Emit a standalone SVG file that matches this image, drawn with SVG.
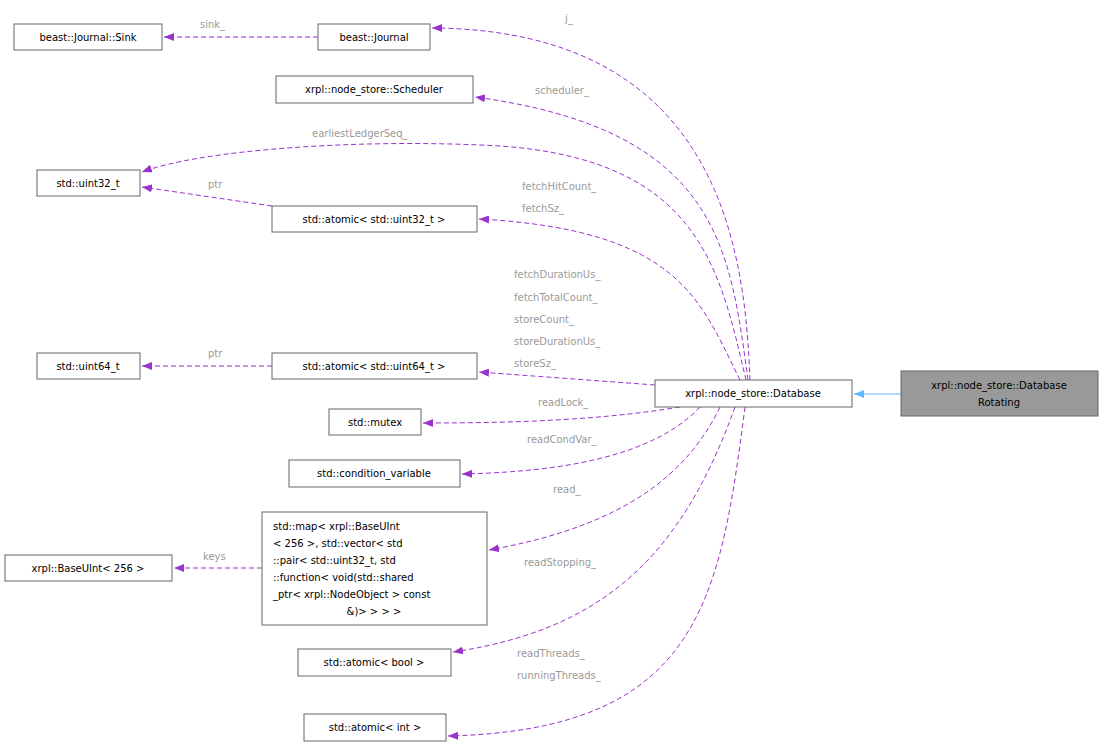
<svg xmlns="http://www.w3.org/2000/svg" width="1103" height="748" viewBox="0 0 1103 748">
<style>
text{font-family:"DejaVu Sans",sans-serif;font-size:10px;fill:#000}
.n rect{fill:#fff;stroke:#666;stroke-width:1}
.l{fill:#9a9a9a;text-anchor:start}
.c{text-anchor:middle}
.e{fill:none;stroke:#9a32cd;stroke-dasharray:5,3}
</style>
<defs>
<marker id="a" markerWidth="10" markerHeight="8" refX="10" refY="4" orient="auto" markerUnits="userSpaceOnUse"><path d="M0,0L10,4L0,8z" fill="#9a32cd"/></marker>
<marker id="b" markerWidth="10" markerHeight="8" refX="10" refY="4" orient="auto" markerUnits="userSpaceOnUse"><path d="M0,0L10,4L0,8z" fill="#63b8ff"/></marker>
</defs>
<rect width="1103" height="748" fill="#fff"/>
<g id="connectors">
<path class="e" marker-end="url(#a)" d="M318,37H164"/>
<path class="e" marker-end="url(#a)" d="M750,380C745,250 720,30 432,28"/>
<path class="e" marker-end="url(#a)" d="M748,380C730,250 720,130 475,97"/>
<path class="e" marker-end="url(#a)" d="M746,380C720,270 700,160 500,146C360,138 200,150 142,172"/>
<path class="e" marker-end="url(#a)" d="M272,206L142,187"/>
<path class="e" marker-end="url(#a)" d="M740,380C700,300 680,230 479,219"/>
<path class="e" marker-end="url(#a)" d="M272,366H142"/>
<path class="e" marker-end="url(#a)" d="M655,385L479,372"/>
<path class="e" marker-end="url(#a)" d="M680,407C600,420 520,423 423,423"/>
<path class="e" marker-end="url(#a)" d="M700,407C650,460 550,472 462,474"/>
<path class="e" marker-end="url(#a)" d="M720,407C680,490 600,530 489,550"/>
<path class="e" marker-end="url(#a)" d="M262,568H174"/>
<path class="e" marker-end="url(#a)" d="M735,407C680,560 600,630 453,652"/>
<path class="e" marker-end="url(#a)" d="M745,407C720,600 700,730 448,736"/>
<path fill="none" stroke="#63b8ff" marker-end="url(#b)" d="M901,394H854"/>
<text class="l" x="200" y="28">sink_</text>
<text class="l" x="565" y="22">j_</text>
<text class="l" x="535" y="94">scheduler_</text>
<text class="l" x="312" y="137">earliestLedgerSeq_</text>
<text class="l" x="208" y="188">ptr</text>
<text class="l" x="522" y="190">fetchHitCount_</text>
<text class="l" x="522" y="212">fetchSz_</text>
<text class="l" x="514" y="278">fetchDurationUs_</text>
<text class="l" x="514" y="301">fetchTotalCount_</text>
<text class="l" x="514" y="323">storeCount_</text>
<text class="l" x="514" y="345">storeDurationUs_</text>
<text class="l" x="514" y="367">storeSz_</text>
<text class="l" x="208" y="357">ptr</text>
<text class="l" x="538" y="406">readLock_</text>
<text class="l" x="527" y="443">readCondVar_</text>
<text class="l" x="553" y="493">read_</text>
<text class="l" x="203" y="560">keys</text>
<text class="l" x="524" y="566">readStopping_</text>
<text class="l" x="517" y="657">readThreads_</text>
<text class="l" x="517" y="679">runningThreads_</text>
</g>
<g id="n1" class="n"><rect x="14" y="24" width="148" height="26"/><text class="c" x="88" y="41">beast::Journal::Sink</text></g>
<g id="n2" class="n"><rect x="318" y="24" width="112" height="26"/><text class="c" x="374" y="41">beast::Journal</text></g>
<g id="n3" class="n"><rect x="276" y="76" width="197" height="27"/><text class="c" x="374" y="93">xrpl::node_store::Scheduler</text></g>
<g id="n4" class="n"><rect x="37" y="170" width="103" height="26"/><text class="c" x="88" y="187">std::uint32_t</text></g>
<g id="n5" class="n"><rect x="272" y="206" width="205" height="26"/><text class="c" x="374" y="223">std::atomic&lt; std::uint32_t &gt;</text></g>
<g id="n6" class="n"><rect x="37" y="353" width="103" height="26"/><text class="c" x="88" y="370">std::uint64_t</text></g>
<g id="n7" class="n"><rect x="272" y="353" width="205" height="26"/><text class="c" x="374" y="370">std::atomic&lt; std::uint64_t &gt;</text></g>
<g id="n8" class="n"><rect x="655" y="380" width="197" height="27"/><text class="c" x="753" y="397">xrpl::node_store::Database</text></g>
<g id="n9" class="n"><rect x="901" y="371" width="197" height="45" style="fill:#999"/><text class="c" x="999" y="389">xrpl::node_store::Database</text><text class="c" x="999" y="406">Rotating</text></g>
<g id="n10" class="n"><rect x="329" y="409" width="92" height="26"/><text class="c" x="375" y="426">std::mutex</text></g>
<g id="n11" class="n"><rect x="289" y="460" width="171" height="27"/><text class="c" x="374" y="477">std::condition_variable</text></g>
<g id="n12" class="n"><rect x="262" y="512" width="225" height="113"/>
<text x="273" y="530">std::map&lt; xrpl::BaseUInt</text><text x="273" y="547">&lt; 256 &gt;, std::vector&lt; std</text><text x="273" y="564">::pair&lt; std::uint32_t, std</text><text x="273" y="581">::function&lt; void(std::shared</text><text x="273" y="598">_ptr&lt; xrpl::NodeObject &gt; const</text><text class="c" x="374" y="615">&amp;)&gt; &gt; &gt; &gt;</text></g>
<g id="n13" class="n"><rect x="5" y="555" width="167" height="26"/><text class="c" x="88" y="572">xrpl::BaseUInt&lt; 256 &gt;</text></g>
<g id="n14" class="n"><rect x="298" y="649" width="153" height="27"/><text class="c" x="374" y="666">std::atomic&lt; bool &gt;</text></g>
<g id="n15" class="n"><rect x="304" y="714" width="142" height="27"/><text class="c" x="375" y="731">std::atomic&lt; int &gt;</text></g>
</svg>
